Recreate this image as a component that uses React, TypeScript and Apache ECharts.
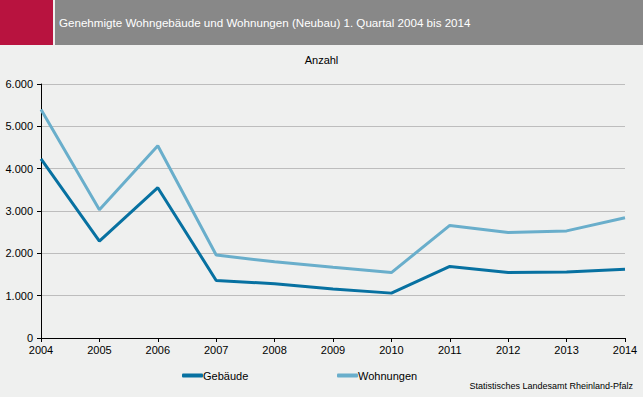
import React, { useEffect, useRef } from "react";
import * as echarts from "echarts";

const years = ["2004", "2005", "2006", "2007", "2008", "2009", "2010", "2011", "2012", "2013", "2014"];
const gebaeude = [4230, 2290, 3550, 1360, 1280, 1160, 1060, 1690, 1545, 1560, 1625];
const wohnungen = [5400, 3030, 4540, 1960, 1800, 1670, 1545, 2660, 2490, 2530, 2840];
const yTicks = [0, 1000, 2000, 3000, 4000, 5000, 6000];

const titleText = "Genehmigte Wohngebäude und Wohnungen (Neubau) 1. Quartal 2004 bis 2014";
const sourceText = "Statistisches Landesamt Rheinland-Pfalz";

const colGeb = "#0771A1";
const colWoh = "#69AECB";
const font = "'Liberation Sans', Arial, sans-serif";

function fmt(v: number): string {
  return String(v).replace(/\B(?=(\d{3})+(?!\d))/g, ".");
}

export default function App() {
  const ref = useRef<HTMLDivElement>(null);
  useEffect(() => {
    if (!ref.current) return;
    const chart = echarts.init(ref.current, null, { renderer: "svg" });
    chart.setOption({
      animation: false,
      backgroundColor: "#EFF0EF",
      textStyle: { fontFamily: font },
      graphic: [
        { type: "rect", left: 0, top: 0, shape: { width: 53, height: 45 }, style: { fill: "#B8133F" } },
        { type: "rect", left: 55, top: 0, shape: { width: 588, height: 45 }, style: { fill: "#888888" } },
        {
          type: "text",
          left: 59,
          top: 16,
          style: { text: titleText, fill: "#ffffff", font: `11.6px ${font}` },
        },
        {
          type: "text",
          left: "center",
          top: 54,
          style: { text: "Anzahl", fill: "#000000", font: `11px ${font}` },
        },
        {
          type: "text",
          right: 10,
          top: 381,
          style: { text: sourceText, fill: "#000000", font: `9px ${font}` },
        },
      ],
      legend: [
        {
          data: ["Gebäude"],
          left: 182,
          top: 370,
          icon: "roundRect",
          itemWidth: 21,
          itemHeight: 4,
          itemGap: 0,
          textStyle: { fontSize: 11, color: "#000", fontFamily: font, padding: [0, 0, 0, -5] },
          padding: 0,
        },
        {
          data: ["Wohnungen"],
          left: 337,
          top: 370,
          icon: "roundRect",
          itemWidth: 21,
          itemHeight: 4,
          itemGap: 0,
          textStyle: { fontSize: 11, color: "#000", fontFamily: font, padding: [0, 0, 0, -5] },
          padding: 0,
        },
      ],
      grid: { left: 41, right: 18, top: 84, bottom: 59, containLabel: false },
      xAxis: {
        type: "category",
        data: years,
        boundaryGap: false,
        axisLine: { lineStyle: { color: "#000", width: 1 } },
        axisTick: { show: true, length: 4, lineStyle: { color: "#000" } },
        axisLabel: { color: "#000", fontSize: 11, margin: 6, fontFamily: font },
        splitLine: { show: false },
      },
      yAxis: {
        type: "value",
        min: 0,
        max: 6000,
        interval: 1000,
        axisLine: { show: true, lineStyle: { color: "#000", width: 1 } },
        axisTick: { show: true, length: 4, lineStyle: { color: "#000" } },
        axisLabel: {
          color: "#000",
          fontSize: 11,
          margin: 8,
          fontFamily: font,
          formatter: (v: number) => (yTicks.includes(v) ? fmt(v) : ""),
        },
        splitLine: { show: true, lineStyle: { color: "#BDBDBD", width: 1 } },
      },
      series: [
        {
          name: "Gebäude",
          type: "line",
          data: gebaeude,
          symbol: "none",
          lineStyle: { color: colGeb, width: 3 },
          itemStyle: { color: colGeb },
        },
        {
          name: "Wohnungen",
          type: "line",
          data: wohnungen,
          symbol: "none",
          lineStyle: { color: colWoh, width: 3 },
          itemStyle: { color: colWoh },
        },
      ],
    });
    return () => chart.dispose();
  }, []);
  return <div ref={ref} style={{ width: 643, height: 397, position: "absolute", left: 0, top: 0 }} />;
}
